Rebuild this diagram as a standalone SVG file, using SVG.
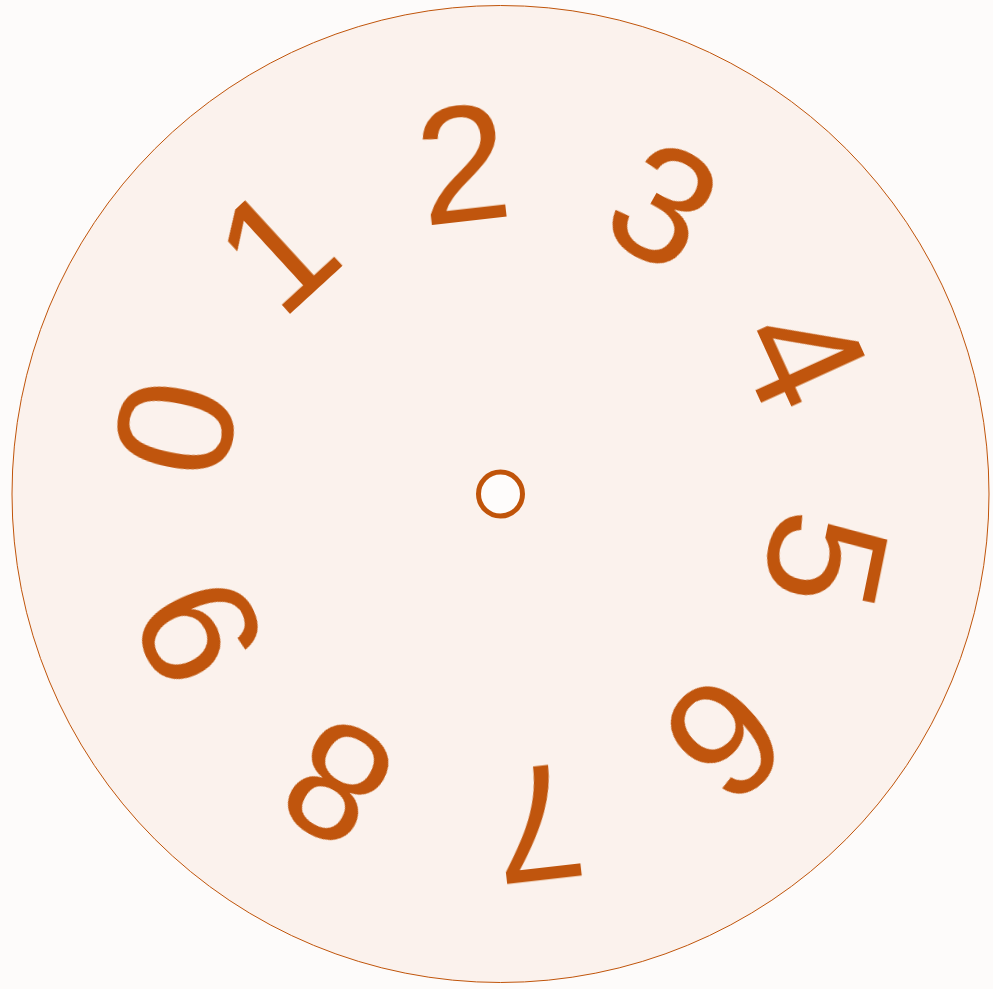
<svg xmlns="http://www.w3.org/2000/svg" width="993" height="989" viewBox="0 0 993 989">
<style>
.d{font-family:"Liberation Sans",Arial,sans-serif;font-size:165px;fill:#C0540A;text-anchor:middle}
</style>
<defs>
<filter id="soft" x="-20%" y="-20%" width="140%" height="140%"><feGaussianBlur stdDeviation="0.25"/></filter>
</defs>
<rect width="993" height="989" fill="#FDFBFA"/>
<g id="dial">
<circle cx="500.5" cy="494" r="488.5" fill="#FBF2ED" stroke="#C0540A" stroke-width="1"/>
</g>
<g id="hub">
<circle cx="500.5" cy="494" r="22" fill="#FEFCFB" stroke="#C0540A" stroke-width="5"/>
</g>
<g id="digits">
<g id="d0" transform="rotate(-78.5 500.5 494)"><text class="d" x="500.5" y="219" filter="url(#soft)">0</text></g>
<g id="d1" transform="rotate(-42.5 500.5 494)"><text class="d" x="500.5" y="219" filter="url(#soft)">1</text></g>
<g id="d2" transform="rotate(-6.5 500.5 494)"><text class="d" x="500.5" y="219" filter="url(#soft)">2</text></g>
<g id="d3" transform="rotate(29.5 500.5 494)"><text class="d" x="500.5" y="219" filter="url(#soft)">3</text></g>
<g id="d4" transform="rotate(65.5 500.5 494)"><text class="d" x="500.5" y="219" filter="url(#soft)">4</text></g>
<g id="d5" transform="rotate(101.5 500.5 494)"><text class="d" x="500.5" y="219" filter="url(#soft)">5</text></g>
<g id="d6" transform="rotate(137.5 500.5 494)"><text class="d" x="500.5" y="219" filter="url(#soft)">6</text></g>
<g id="d7" transform="rotate(173.5 500.5 494)"><text class="d" x="500.5" y="219" filter="url(#soft)">7</text></g>
<g id="d8" transform="rotate(209.5 500.5 494)"><text class="d" x="500.5" y="219" filter="url(#soft)">8</text></g>
<g id="d9" transform="rotate(245.5 500.5 494)"><text class="d" x="500.5" y="219" filter="url(#soft)">9</text></g>
</g>
</svg>
